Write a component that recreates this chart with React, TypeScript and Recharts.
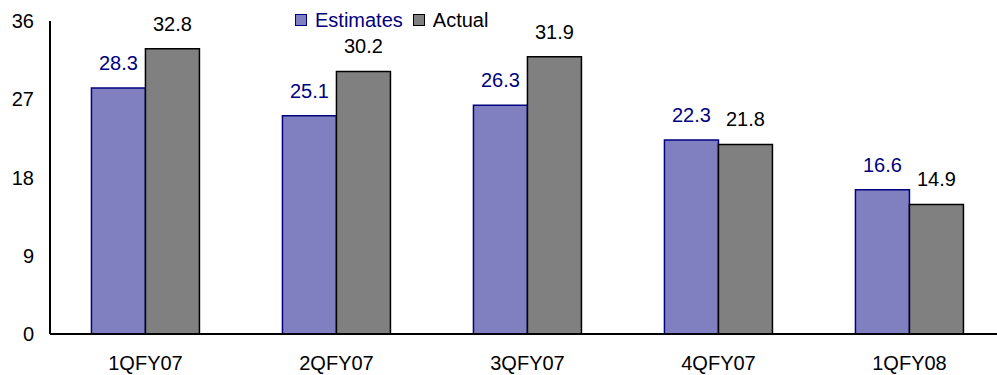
import { BarChart, Bar, XAxis, YAxis, Legend, LabelList } from "recharts";

const quarters = ["1QFY07", "2QFY07", "3QFY07", "4QFY07", "1QFY08"];
const estimates = [28.3, 25.1, 26.3, 22.3, 16.6];
const actual = [32.8, 30.2, 31.9, 21.8, 14.9];
const yTicks = [0, 9, 18, 27, 36];

const FONT = "'Liberation Sans', Arial, sans-serif";

const data = quarters.map((q, i) => ({
  quarter: q,
  estimates: estimates[i],
  actual: actual[i],
}));

const legendItems = [
  { label: "Estimates", fill: "#8080c0", stroke: "#000080", text: "#000080" },
  { label: "Actual", fill: "#808080", stroke: "#000000", text: "#000000" },
];

function LegendRow() {
  return (
    <div style={{ display: "flex", alignItems: "center", fontFamily: FONT, fontSize: 20 }}>
      {legendItems.map((it) => (
        <div key={it.label} style={{ display: "flex", alignItems: "center", marginRight: 10 }}>
          <span
            style={{
              width: 10,
              height: 10,
              background: it.fill,
              border: `1.5px solid ${it.stroke}`,
              marginRight: 8,
            }}
          />
          <span style={{ color: it.text, lineHeight: "20px" }}>{it.label}</span>
        </div>
      ))}
    </div>
  );
}

export default function App() {
  return (
    <div
      style={{
        position: "absolute",
        left: 0,
        top: 0,
        width: 997,
        height: 375,
        overflow: "hidden",
        background: "#fff",
      }}
    >
      <BarChart
        width={997}
        height={375}
        data={data}
        margin={{ top: 21, right: -8, bottom: 0, left: 0 }}
        barCategoryGap="21.7%"
        barGap={0}
      >
        <XAxis
          dataKey="quarter"
          axisLine={{ stroke: "#000", strokeWidth: 2 }}
          tickLine={false}
          tickSize={0}
          tickMargin={22}
          height={41}
          tick={{ fill: "#000", fontSize: 20, fontFamily: FONT }}
        />
        <YAxis
          domain={[0, 36]}
          ticks={yTicks}
          axisLine={{ stroke: "#000", strokeWidth: 2 }}
          tickLine={false}
          tickSize={0}
          tickMargin={16}
          width={50}
          tick={{ fill: "#000", fontSize: 20, fontFamily: FONT }}
        />
        <Legend
          layout="horizontal"
          verticalAlign="middle"
          wrapperStyle={{ top: 10, left: 295, width: "auto" }}
          content={() => <LegendRow />}
        />
        <Bar dataKey="estimates" fill="#8080c0" stroke="#000080" strokeWidth={1.5} isAnimationActive={false}>
          <LabelList
            dataKey="estimates"
            position="top"
            offset={18}
            fill="#000080"
            fontSize={20}
            fontFamily={FONT}
          />
        </Bar>
        <Bar dataKey="actual" fill="#808080" stroke="#000" strokeWidth={1.5} isAnimationActive={false}>
          <LabelList
            dataKey="actual"
            position="top"
            offset={18}
            fill="#000"
            fontSize={20}
            fontFamily={FONT}
          />
        </Bar>
      </BarChart>
    </div>
  );
}
